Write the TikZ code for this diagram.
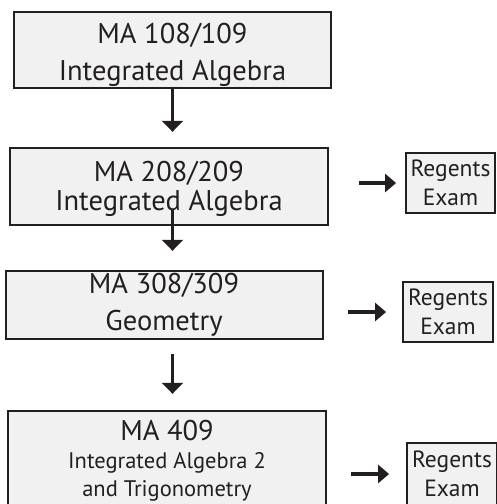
\documentclass[tikz,border=0pt]{standalone}
\usepackage{fontspec}
\setmainfont{PT Sans}
\usetikzlibrary{arrows.meta}
\definecolor{boxfill}{HTML}{F1F1F1}
\definecolor{ink}{HTML}{231F20}
\begin{document}
\begin{tikzpicture}[x=1pt,y=1pt,
  course/.style={draw=ink, line width=2.4pt, fill=boxfill, inner sep=0pt},
  exam/.style={draw=ink, line width=1.8pt, fill=boxfill, inner sep=0pt,
    minimum width=89pt, minimum height=60pt, text=ink,
    font=\fontsize{23.5}{29}\selectfont, align=center},
  txt/.style={align=center, inner sep=0pt, text=ink},
  varrow/.style={draw=ink, line width=3.8pt, -{Triangle[length=11pt,width=21pt]}},
  harrow/.style={draw=ink, line width=3.3pt, -{Triangle[length=11pt,width=18pt]}}]
\useasboundingbox (0,0) rectangle (496,-504);
% course boxes
\node[course, minimum width=317pt, minimum height=76pt] (b1) at (172.5,-50) {};
\node[course, minimum width=318pt, minimum height=77pt] (b2) at (169,-186.5) {};
\node[course, minimum width=317pt, minimum height=68pt] (b3) at (164.5,-305) {};
\node[course, minimum width=318pt, minimum height=109pt] (b4) at (167,-465.5) {};
% texts
\node[txt, font=\fontsize{28.5}{37}\selectfont] (t1) at (172.5,-55) {MA 108/109\\Integrated Algebra};
\node[txt, font=\fontsize{28.5}{29}\selectfont] (t2) at (169,-189) {MA 208/209\\Integrated Algebra};
\node[txt, font=\fontsize{28.5}{37}\selectfont] (t3) at (164,-305) {MA 308/309\\Geometry};
\node[txt, font=\fontsize{22.5}{28}\selectfont] (t4) at (167,-461) {{\fontsize{28.5}{28}\selectfont MA 409}\\Integrated Algebra 2\\and Trigonometry};
% exam boxes
\node[exam] (r1) at (450.5,-183) {Regents\\Exam};
\node[exam, minimum width=90pt] (r2) at (448,-312) {Regents\\Exam};
\node[exam, minimum width=90pt, minimum height=62pt] (r3) at (452,-474) {Regents\\Exam};
% vertical arrows
\draw[varrow, shorten >=15pt] (b1.south) -- (b1.south |- b2.north);
\draw[varrow, shorten <=-16pt, shorten >=19pt] (b1.south |- b2.south) -- (b1.south |- b3.north);
\draw[varrow, shorten <=14pt, shorten >=16pt] (b1.south |- b3.south) -- (b1.south |- b4.north);
% horizontal arrows
\draw[harrow, shorten <=30pt, shorten >=9pt] (b2.east |- r1.west) -- (r1.west);
\draw[harrow, shorten <=24pt, shorten >=16pt] (b3.east |- r2.west) -- (r2.west);
\draw[harrow, shorten <=24pt, shorten >=17pt] (b4.east |- r3.west) -- (r3.west);
\end{tikzpicture}
\end{document}
